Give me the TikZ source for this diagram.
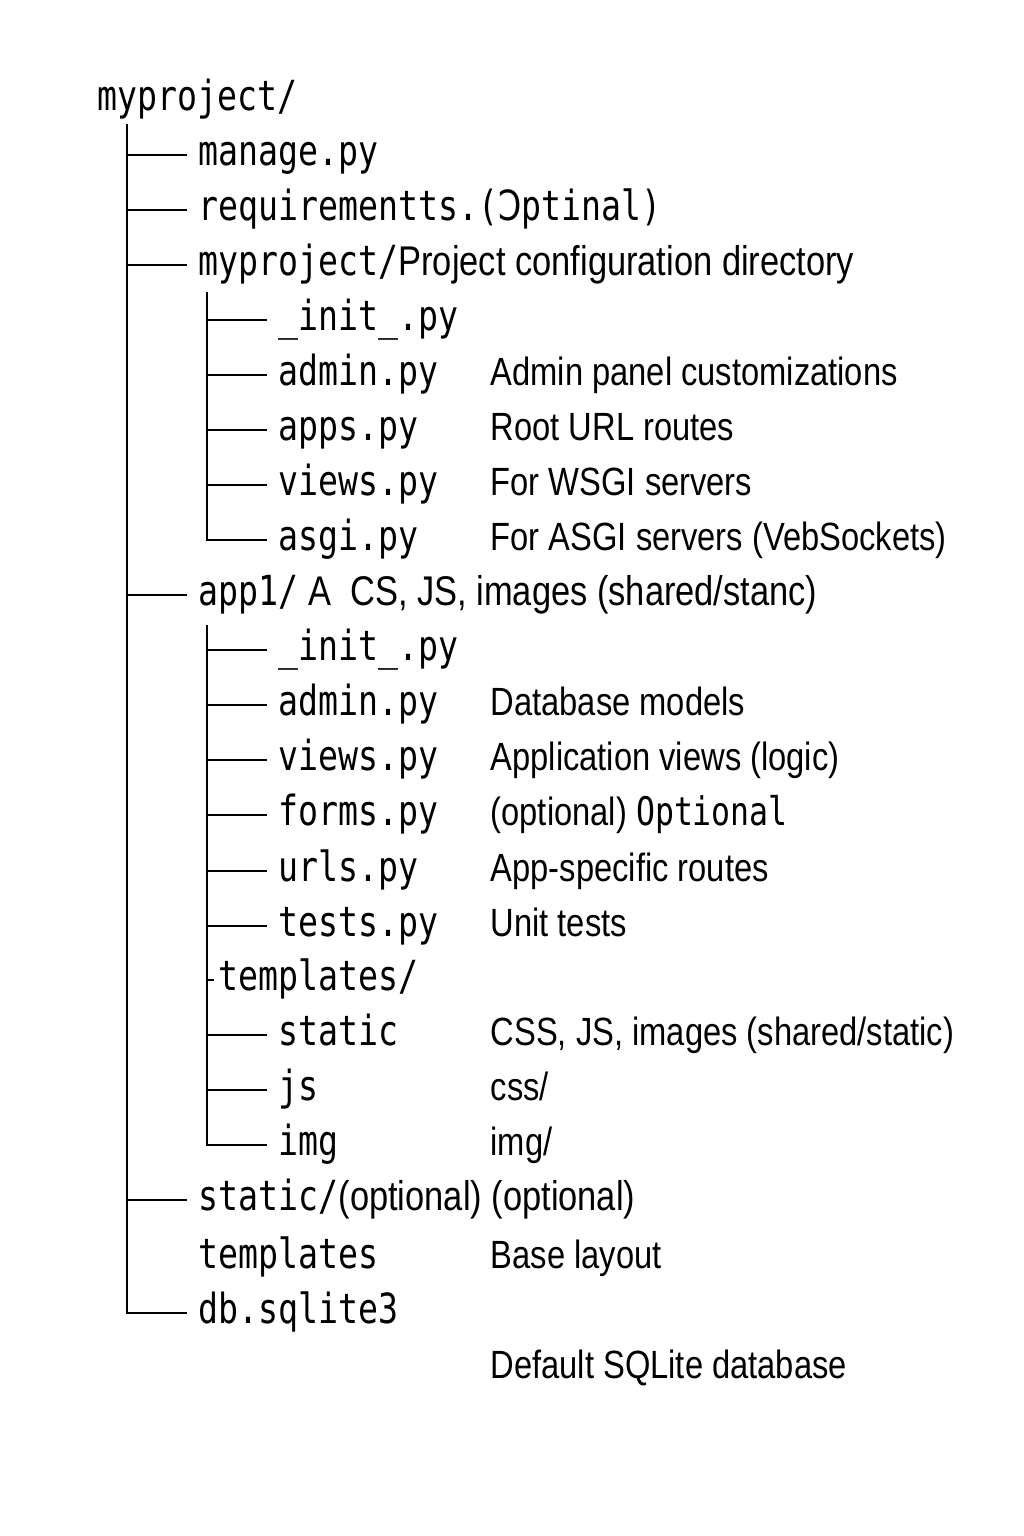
\documentclass[tikz,border=0pt]{standalone}
\usepackage{fontspec}
\setmainfont{Liberation Sans}[FakeStretch=0.83]
\setsansfont{Liberation Sans}[FakeStretch=0.83]
\setmonofont{DejaVu Sans Mono}[FakeStretch=0.80]
\newfontfamily\revfont{DejaVu Sans}[FakeStretch=0.80]
\usetikzlibrary{positioning}
\tikzset{file/.style={anchor=west, inner xsep=3pt, inner ysep=0pt, text height=8pt, text depth=2pt,
                      font=\fontsize{11.8}{13}\selectfont\ttfamily},
         note/.style={file, font=\fontsize{11.2}{13}\selectfont\sffamily},
         every edge/.style={draw, line width=0.65pt}}

\begin{document}
\begin{tikzpicture}[x=0.01cm, y=-0.01cm, line width=0.65pt]
  \useasboundingbox (0,0) rectangle (1024,1536);
  \node[file] (R) at (86,100) {myproject/};
  \node[file] (M1) at (187,155) {manage.py};
  \node[file] (M2) at (187,210) {requirementts.({\revfont Ↄ}ptinal)};
  \node[file] (M3) at (187,265) {myproject/\sffamily Project configuration directory};
  \node[file] (C0) at (267,320) {\_init\_.py};
  \node[file] (C1) at (267,375) {admin.py};
  \node[file] (C2) at (267,430) {apps.py};
  \node[file] (C3) at (267,485) {views.py};
  \node[file] (C4) at (267,540) {asgi.py};
  \node[note] (N1) at (479,375) {Admin panel customizations};
  \node[note] (N2) at (479,430) {Root URL routes};
  \node[note] (N3) at (479,485) {For WSGI servers};
  \node[note] (N4) at (479,540) {For ASGI servers (VebSockets)};
  \node[file] (M4) at (187,595) {app1/\sffamily\ A\ \ CS, JS, images (shared/stanc)};
  \node[file] (A0) at (267,650) {\_init\_.py};
  \node[file] (A1) at (267,705) {admin.py};
  \node[file] (A2) at (267,760) {views.py};
  \node[file] (A3) at (267,815) {forms.py};
  \node[file] (A4) at (267,871) {urls.py};
  \node[file] (A5) at (267,926) {tests.py};
  \node[file, inner xsep=1pt] (A6) at (214,980) {templates/};
  \node[file] (A7) at (267,1035) {static};
  \node[file] (A8) at (267,1090) {js};
  \node[file] (A9) at (267,1145) {img};
  \node[note] (B1) at (479,705) {Database models};
  \node[note] (B2) at (479,760) {Application views (logic)};
  \node[note] (B3) at (479,815) {(optional) {\ttfamily Optional}};
  \node[note] (B4) at (479,871) {App-specific routes};
  \node[note] (B5) at (479,926) {Unit tests};
  \node[note] (B7) at (479,1035) {CSS, JS, images (shared/static)};
  \node[note] (B8) at (479,1090) {css/};
  \node[note] (B9) at (479,1145) {img/};
  \node[file] (M5) at (187,1200) {static/\sffamily(optional) (optional)};
  \node[file] (M6) at (187,1258) {templates};
  \node[note] (N6) at (479,1258) {Base layout};
  \node[file] (M7) at (187,1313) {db.sqlite3};
  \node[note] (N7) at (479,1368) {Default SQLite database};
  \coordinate (T0) at (127,124);
  \coordinate (T1) at (207,292);
  \coordinate (T2) at (207,625);
  \draw (T0) |- (M7.west);
  \draw (T1) |- (C4.west);
  \draw (T2) |- (A9.west);
  \path (T0 |- M1.west) edge (M1.west)
        (T0 |- M2.west) edge (M2.west)
        (T0 |- M3.west) edge (M3.west)
        (T0 |- M4.west) edge (M4.west)
        (T0 |- M5.west) edge (M5.west)
        (T1 |- C0.west) edge (C0.west)
        (T1 |- C1.west) edge (C1.west)
        (T1 |- C2.west) edge (C2.west)
        (T1 |- C3.west) edge (C3.west)
        (T2 |- A0.west) edge (A0.west)
        (T2 |- A1.west) edge (A1.west)
        (T2 |- A2.west) edge (A2.west)
        (T2 |- A3.west) edge (A3.west)
        (T2 |- A4.west) edge (A4.west)
        (T2 |- A5.west) edge (A5.west)
        (T2 |- A6.west) edge (A6.west)
        (T2 |- A7.west) edge (A7.west)
        (T2 |- A8.west) edge (A8.west);
\end{tikzpicture}
\end{document}
